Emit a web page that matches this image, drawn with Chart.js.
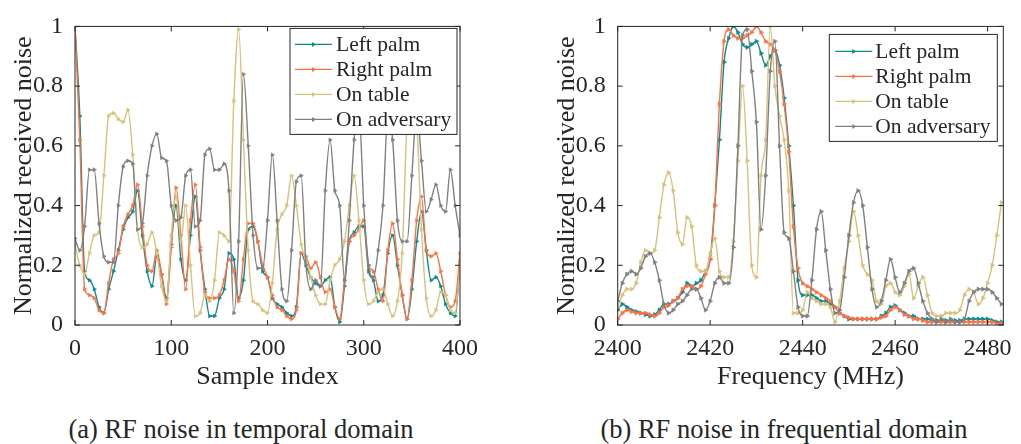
<!DOCTYPE html>
<html lang="en">
<head>
<meta charset="utf-8">
<title>RF noise</title>
<script src="https://cdn.jsdelivr.net/npm/chart.js@4/dist/chart.umd.min.js"></script>
<style>
  body { margin: 0; background: #fff; width: 1021px; height: 444px; position: relative; overflow: hidden; font-family: 'Liberation Serif', 'Times New Roman', serif; color: #262626; }
  canvas { position: absolute; top: 0; }
  #leftChart { left: 0; }
  #rightChart { left: 510px; }
  .caption { position: absolute; top: 414px; font-size: 26.5px; line-height: 30px; white-space: nowrap; transform: translateX(-50%); }
</style>
</head>
<body>
<canvas id="leftChart" width="510" height="400"></canvas>
<canvas id="rightChart" width="511" height="400"></canvas>
<div class="caption" style="left:241px">(a) RF noise in temporal domain</div>
<div class="caption" style="left:784px">(b) RF noise in frequential domain</div>
<script>
// series names + colours (legend order)
let seriesNames = ['Left palm', 'Right palm', 'On table', 'On adversary'];
let seriesColors = ['#0e8a8a', '#ff7043', '#d6c27a', '#808080'];

// (a) temporal domain, every 5th sample
let sampleIdx = [
  0, 5, 10, 15, 20, 25, 30, 35, 40, 45,
  50, 55, 60, 65, 70, 75, 80, 85, 90, 95,
  100, 105, 110, 115, 120, 125, 130, 135, 140, 145,
  150, 155, 160, 165, 170, 175, 180, 185, 190, 195,
  200, 205, 210, 215, 220, 225, 230, 235, 240, 245,
  250, 255, 260, 265, 270, 275, 280, 285, 290, 295,
  300, 305, 310, 315, 320, 325, 330, 335, 340, 345,
  350, 355, 360, 365, 370, 375, 380, 385, 390, 395,
  400
];
let leftPalmT = [
  1.0, 0.70, 0.18, 0.15, 0.12, 0.06, 0.04, 0.12, 0.18, 0.25,
  0.32, 0.36, 0.38, 0.45, 0.30, 0.18, 0.13, 0.23, 0.17, 0.09,
  0.27, 0.40, 0.22, 0.15, 0.30, 0.43, 0.25, 0.12, 0.03, 0.03,
  0.09, 0.12, 0.24, 0.22, 0.09, 0.15, 0.32, 0.33, 0.28, 0.18,
  0.16, 0.09, 0.07, 0.06, 0.04, 0.03, 0.06, 0.24, 0.20, 0.16,
  0.14, 0.13, 0.15, 0.16, 0.06, 0.01, 0.13, 0.28, 0.31, 0.33,
  0.33, 0.18, 0.15, 0.08, 0.10, 0.24, 0.30, 0.20, 0.10, 0.02,
  0.12, 0.28, 0.38, 0.25, 0.15, 0.16, 0.13, 0.07, 0.04, 0.03,
  0.21
];
let rightPalmT = [
  1.0, 0.62, 0.12, 0.10, 0.09, 0.05, 0.04, 0.14, 0.22, 0.24,
  0.33, 0.37, 0.40, 0.47, 0.33, 0.20, 0.18, 0.25, 0.17, 0.07,
  0.26, 0.46, 0.30, 0.12, 0.35, 0.47, 0.26, 0.11, 0.09, 0.09,
  0.10, 0.15, 0.22, 0.18, 0.08, 0.22, 0.34, 0.34, 0.28, 0.20,
  0.16, 0.10, 0.06, 0.05, 0.03, 0.02, 0.05, 0.24, 0.23, 0.19,
  0.21, 0.16, 0.11, 0.12, 0.06, 0.02, 0.15, 0.28, 0.30, 0.32,
  0.35, 0.20, 0.18, 0.12, 0.08, 0.25, 0.34, 0.22, 0.10, 0.02,
  0.15, 0.35, 0.43, 0.25, 0.23, 0.24, 0.18, 0.10, 0.06, 0.08,
  0.24
];
let onTableT = [
  0.27, 0.20, 0.17, 0.24, 0.30, 0.31, 0.50, 0.70, 0.71, 0.69,
  0.68, 0.72, 0.57, 0.32, 0.26, 0.27, 0.31, 0.24, 0.13, 0.08,
  0.30, 0.43, 0.28, 0.40, 0.20, 0.03, 0.04, 0.10, 0.08, 0.15,
  0.31, 0.30, 0.28, 0.75, 0.99, 0.62, 0.25, 0.08, 0.07, 0.05,
  0.04, 0.14, 0.32, 0.37, 0.40, 0.50, 0.40, 0.27, 0.22, 0.16,
  0.10, 0.07, 0.07, 0.15, 0.20, 0.22, 0.28, 0.40, 0.50, 0.35,
  0.15, 0.07, 0.08, 0.11, 0.12, 0.07, 0.03, 0.08, 0.24, 0.68,
  0.76, 0.68, 0.32, 0.09, 0.03, 0.05, 0.11, 0.10, 0.05, 0.04,
  0.20
];
let onAdversaryT = [
  0.29, 0.25, 0.33, 0.52, 0.52, 0.34, 0.23, 0.21, 0.21, 0.40,
  0.53, 0.55, 0.54, 0.32, 0.34, 0.50, 0.60, 0.64, 0.56, 0.55,
  0.40, 0.35, 0.36, 0.50, 0.52, 0.33, 0.35, 0.57, 0.59, 0.52,
  0.52, 0.54, 0.45, 0.04, 0.28, 0.84, 0.60, 0.30, 0.19, 0.19,
  0.35, 0.57, 0.35, 0.12, 0.08, 0.25, 0.48, 0.50, 0.20, 0.12,
  0.15, 0.13, 0.45, 0.62, 0.45, 0.40, 0.15, 0.35, 0.62, 0.72,
  0.40, 0.20, 0.16, 0.25, 0.40, 0.70, 0.62, 0.35, 0.28, 0.28,
  0.50, 0.72, 0.55, 0.38, 0.42, 0.47, 0.40, 0.38, 0.52, 0.40,
  0.30
];

// (b) frequential domain, 1 MHz steps
let freqMHz = [
  2400, 2401, 2402, 2403, 2404, 2405, 2406, 2407, 2408, 2409,
  2410, 2411, 2412, 2413, 2414, 2415, 2416, 2417, 2418, 2419,
  2420, 2421, 2422, 2423, 2424, 2425, 2426, 2427, 2428, 2429,
  2430, 2431, 2432, 2433, 2434, 2435, 2436, 2437, 2438, 2439,
  2440, 2441, 2442, 2443, 2444, 2445, 2446, 2447, 2448, 2449,
  2450, 2451, 2452, 2453, 2454, 2455, 2456, 2457, 2458, 2459,
  2460, 2461, 2462, 2463, 2464, 2465, 2466, 2467, 2468, 2469,
  2470, 2471, 2472, 2473, 2474, 2475, 2476, 2477, 2478, 2479,
  2480, 2481, 2482, 2483
];
let leftPalmF = [
  0.05, 0.07, 0.06, 0.05, 0.045, 0.04, 0.035, 0.03, 0.035, 0.05,
  0.07, 0.07, 0.08, 0.09, 0.11, 0.14, 0.13, 0.14, 0.15, 0.18,
  0.22, 0.40, 0.62, 0.88, 0.96, 1.00, 0.98, 0.94, 0.93, 0.94,
  0.95, 0.91, 0.87, 0.90, 0.92, 0.87, 0.76, 0.60, 0.40, 0.15,
  0.10, 0.10, 0.10, 0.09, 0.08, 0.08, 0.07, 0.06, 0.04, 0.03,
  0.02, 0.02, 0.02, 0.02, 0.02, 0.02, 0.02, 0.03, 0.04, 0.06,
  0.065, 0.05, 0.04, 0.03, 0.03, 0.02, 0.02, 0.02, 0.015, 0.015,
  0.015, 0.015, 0.015, 0.015, 0.015, 0.02, 0.02, 0.02, 0.02, 0.02,
  0.02, 0.015, 0.01, 0.01
];
let rightPalmF = [
  0.02, 0.04, 0.05, 0.045, 0.04, 0.04, 0.04, 0.035, 0.03, 0.04,
  0.06, 0.065, 0.08, 0.09, 0.12, 0.13, 0.13, 0.12, 0.13, 0.17,
  0.22, 0.40, 0.74, 0.95, 0.99, 0.97, 0.96, 0.96, 0.97, 0.98,
  1.00, 0.98, 0.95, 0.94, 0.92, 0.85, 0.74, 0.58, 0.33, 0.19,
  0.14, 0.13, 0.12, 0.11, 0.10, 0.09, 0.08, 0.06, 0.04, 0.03,
  0.025, 0.02, 0.02, 0.02, 0.02, 0.02, 0.02, 0.025, 0.03, 0.05,
  0.06, 0.05, 0.035, 0.03, 0.02, 0.02, 0.015, 0.01, 0.01, 0.01,
  0.01, 0.01, 0.01, 0.01, 0.01, 0.01, 0.01, 0.01, 0.01, 0.01,
  0.01, 0.01, 0.005, 0.005
];
let onTableF = [
  0.06, 0.10, 0.12, 0.12, 0.14, 0.21, 0.25, 0.24, 0.25, 0.36,
  0.47, 0.51, 0.45, 0.31, 0.27, 0.36, 0.33, 0.20, 0.18, 0.18,
  0.24, 0.29, 0.18, 0.16, 0.16, 0.28, 0.55, 0.80, 0.55, 0.20,
  0.16, 0.50, 0.62, 1.00, 0.80, 0.70, 0.62, 0.45, 0.04, 0.04,
  0.05, 0.11, 0.09, 0.08, 0.07, 0.07, 0.06, 0.01, 0.08, 0.19,
  0.28, 0.38, 0.30, 0.20, 0.17, 0.15, 0.08, 0.07, 0.13, 0.14,
  0.11, 0.10, 0.13, 0.17, 0.09, 0.13, 0.16, 0.10, 0.04, 0.03,
  0.03, 0.04, 0.04, 0.04, 0.05, 0.10, 0.12, 0.11, 0.07, 0.09,
  0.14, 0.20, 0.30, 0.41
];
let onAdversaryF = [
  0.08, 0.14, 0.17, 0.18, 0.17, 0.19, 0.23, 0.24, 0.21, 0.15,
  0.07, 0.04, 0.05, 0.07, 0.08, 0.10, 0.12, 0.12, 0.09, 0.05,
  0.08, 0.14, 0.16, 0.14, 0.14, 0.26, 0.60, 0.97, 0.99, 0.85,
  0.68, 0.32, 0.50, 0.85, 0.95, 0.60, 0.31, 0.29, 0.18, 0.06,
  0.03, 0.03, 0.15, 0.32, 0.38, 0.25, 0.12, 0.04, 0.05, 0.16,
  0.30, 0.41, 0.45, 0.40, 0.26, 0.12, 0.06, 0.08, 0.15, 0.22,
  0.16, 0.11, 0.14, 0.18, 0.19, 0.14, 0.08, 0.04, 0.02, 0.01,
  0.02, 0.01, 0.02, 0.01, 0.01, 0.02, 0.08, 0.11, 0.12, 0.12,
  0.12, 0.11, 0.09, 0.07
];

// tick values / labels
let sampleTicks = [0, 100, 200, 300, 400];
let freqTicks = [2400, 2420, 2440, 2460, 2480];
let yTicks = [0, 0.2, 0.4, 0.6, 0.8, 1];
let yTickLabels = ['0', '0.2', '0.4', '0.6', '0.8', '1'];

const INK = '#262626';
const SERIF = "'Liberation Serif', 'Times New Roman', serif";

// MATLAB-ish box with inward ticks on all four sides
const boxFrame = {
    id: 'boxFrame',
    afterDatasetsDraw(chart) {
        let {ctx, chartArea: a, scales} = chart;
        let tl = 5;
        ctx.save();
        ctx.lineWidth = 1;
        ctx.strokeStyle = INK;
        ctx.beginPath();
        scales.x.ticks.forEach(t => {
            let px = scales.x.getPixelForValue(t.value);
            ctx.moveTo(px, a.bottom); ctx.lineTo(px, a.bottom - tl);
            ctx.moveTo(px, a.top); ctx.lineTo(px, a.top + tl);
        });
        scales.y.ticks.forEach(t => {
            let py = scales.y.getPixelForValue(t.value);
            ctx.moveTo(a.left, py); ctx.lineTo(a.left + tl, py);
            ctx.moveTo(a.right, py); ctx.lineTo(a.right - tl, py);
        });
        ctx.stroke();
        ctx.strokeRect(a.left, a.top, a.right - a.left, a.bottom - a.top);
        ctx.restore();
    }
};

// legend drawn inside the axes, top right
const boxLegend = {
    id: 'boxLegend',
    afterDraw(chart, args, opts) {
        let {ctx, chartArea: a} = chart;
        let x0 = a.right - opts.insetRight - opts.width;
        let y0 = a.top + opts.insetTop;
        ctx.save();
        ctx.fillStyle = '#fff';
        ctx.fillRect(x0, y0, opts.width, opts.height);
        ctx.strokeStyle = INK;
        ctx.lineWidth = 1;
        ctx.strokeRect(x0, y0, opts.width, opts.height);
        ctx.font = opts.fontSize + 'px ' + SERIF;
        ctx.textBaseline = 'middle';
        chart.data.datasets.forEach((ds, i) => {
            let yy = y0 + opts.firstRow + i * opts.rowGap;
            ctx.strokeStyle = ds.borderColor;
            ctx.fillStyle = ds.borderColor;
            ctx.lineWidth = 1.4;
            ctx.beginPath();
            ctx.moveTo(x0 + opts.lineFrom, yy);
            ctx.lineTo(x0 + opts.lineTo, yy);
            ctx.stroke();
            let mx = x0 + (opts.lineFrom + opts.lineTo) / 2;
            ctx.beginPath();
            ctx.moveTo(mx + 2.5, yy);
            ctx.lineTo(mx - 1.5, yy - 2.5);
            ctx.lineTo(mx - 1.5, yy + 2.5);
            ctx.closePath();
            ctx.fill();
            ctx.fillStyle = INK;
            ctx.fillText(ds.label, x0 + opts.textX, yy + 1);
        });
        ctx.restore();
    }
};

function makeDatasets(xs, seriesList, dot) {
    return seriesList.map((vals, i) => ({
        label: seriesNames[i],
        data: xs.map((x, k) => ({x: x, y: vals[k]})),
        borderColor: seriesColors[i],
        backgroundColor: seriesColors[i],
        borderWidth: 1.4,
        pointStyle: 'triangle',
        rotation: 90,
        pointRadius: dot,
        pointBorderWidth: 0.6,
        cubicInterpolationMode: 'monotone',
        order: seriesList.length - i
    }));
}

function makeChart(id, xs, seriesList, xTicks, xMax, xTitle, padLeft, padRight, dot, legendOpts) {
    let ctx = document.getElementById(id).getContext('2d');
    return new Chart(ctx, {
        type: 'line',
        data: {datasets: makeDatasets(xs, seriesList, dot)},
        options: {
            responsive: false,
            animation: false,
            devicePixelRatio: 1,
            layout: {padding: {left: padLeft, right: padRight, top: 17, bottom: 7}},
            plugins: {
                legend: {display: false},
                tooltip: {enabled: false},
                boxLegend: legendOpts
            },
            scales: {
                x: {
                    type: 'linear',
                    min: xs[0],
                    max: xMax,
                    afterBuildTicks: s => { s.ticks = xTicks.map(v => ({value: v})); },
                    afterFit: s => { s.height = 68; },
                    grid: {display: false, drawTicks: false, tickLength: 0},
                    border: {display: false},
                    ticks: {
                        font: {family: SERIF, size: 24},
                        color: INK,
                        padding: 9,
                        maxRotation: 0,
                        autoSkip: false,
                        callback: v => String(v)
                    },
                    title: {display: true, text: xTitle, color: INK, padding: 0, font: {family: SERIF, size: 26}}
                },
                y: {
                    type: 'linear',
                    min: 0,
                    max: 1,
                    afterBuildTicks: s => { s.ticks = yTicks.map(v => ({value: v})); },
                    afterFit: s => { s.width = 66.6; },
                    grid: {display: false, drawTicks: false, tickLength: 0},
                    border: {display: false},
                    ticks: {
                        font: {family: SERIF, size: 24},
                        color: INK,
                        padding: 12,
                        callback: (v, i) => yTickLabels[i]
                    },
                    title: {display: true, text: 'Normalized received noise', color: INK, padding: 0, font: {family: SERIF, size: 26}}
                }
            }
        },
        plugins: [boxFrame, boxLegend]
    });
}

makeChart('leftChart', sampleIdx, [leftPalmT, rightPalmT, onTableT, onAdversaryT],
    sampleTicks, 400, 'Sample index', 8.4, 50, 2.2,
    {insetRight: 3, insetTop: 2, width: 167, height: 106, firstRow: 16, rowGap: 25, lineFrom: 5, lineTo: 42, textX: 46, fontSize: 21.5});

makeChart('rightChart', freqMHz, [leftPalmF, rightPalmF, onTableF, onAdversaryF],
    freqTicks, 2483.4, 'Frequency (MHz)', 41.1, 10, 2.5,
    {insetRight: 6, insetTop: 8, width: 168, height: 107, firstRow: 17, rowGap: 25, lineFrom: 6, lineTo: 43, textX: 46, fontSize: 21.5});
</script>
</body>
</html>
